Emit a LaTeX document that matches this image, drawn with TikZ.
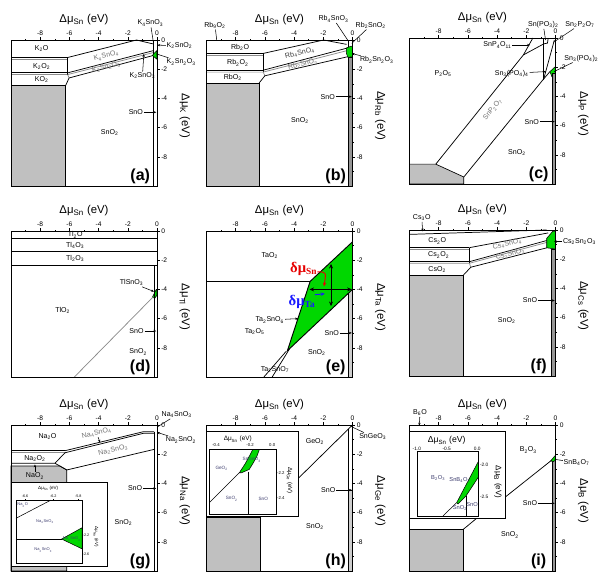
\documentclass[tikz,border=0pt]{standalone}
\usepackage{fontspec}
\setmainfont{Liberation Sans}
\newfontfamily\serifb{Liberation Serif}
\usetikzlibrary{arrows.meta}
\newcommand\ssb[1]{\textsubscript{#1}}
\definecolor{regray}{RGB}{192,192,192}
\definecolor{stripgray}{RGB}{150,150,150}
\definecolor{stripgrayb}{RGB}{205,205,205}
\definecolor{sgreen}{RGB}{0,215,0}
\definecolor{dred}{RGB}{230,0,0}
\definecolor{dblue}{RGB}{25,25,255}
\definecolor{inkc}{RGB}{60,60,110}
\tikzset{
 frame/.style={draw=black,line width=0.7pt},
 bnd/.style={draw=black,line width=0.55pt},
 gbnd/.style={draw=black!45,line width=0.55pt},
 tk/.style={draw=black,line width=0.4pt},
 grayreg/.style={fill=regray,draw=black,line width=0.5pt},
 strip/.style={fill=stripgray,draw=black,line width=0.4pt},
 stripb/.style={fill=stripgrayb,draw=black,line width=0.4pt},
 greenreg/.style={fill=sgreen,draw=black,line width=0.4pt},
 lab/.style={font=\fontsize{5.3}{6}\selectfont,inner sep=0.5pt},
 glab/.style={lab,text=black!55},
 ticklab/.style={font=\fontsize{5}{6}\selectfont,inner sep=0.8pt},
 axtitle/.style={font=\fontsize{8.5}{9}\selectfont,inner sep=0pt},
 plab/.style={font=\fontsize{12}{13}\selectfont\bfseries,inner sep=0pt},
 arr/.style={-{Stealth[length=2.2pt,width=1.8pt]},line width=0.4pt},
 ln/.style={line width=0.4pt},
 ilab/.style={font=\fontsize{#1}{#1}\selectfont,inner sep=0.2pt,text=inkc},
 itit/.style={font=\fontsize{#1}{#1}\selectfont,inner sep=0.2pt},
 ibox/.style={fill=white,draw=black,line width=0.6pt},
 iframe/.style={draw=black,line width=0.5pt},
 darr/.style={{Stealth[length=3.5pt,width=3pt]}-{Stealth[length=3.5pt,width=3pt]},line width=0.8pt},
 rarr/.style={-{Stealth[length=3pt,width=2.6pt]},draw=dred,line width=0.7pt},
 barr/.style={-{Stealth[length=3pt,width=2.6pt]},draw=dblue,line width=0.7pt},
 dlab/.style={font=\serifb\bfseries\fontsize{11}{12}\selectfont,inner sep=0pt},
}
\newcommand\paxes[2]{%
 \draw[frame] (-10,-10) rectangle (0,0);
 \foreach \tv in {-9,-7,-5,-3,-1}{\draw[tk] (\tv,0) -- (\tv,0.1); \draw[tk] (0,\tv) -- (0.1,\tv);}
 \foreach \tv in {-8,-6,-4,-2,0}{%
   \draw[tk] (\tv,0) -- (\tv,0.2) node[ticklab,anchor=south,name=#1x\tv]{\tv};
   \draw[tk] (0,\tv) -- (0.2,\tv) node[ticklab,anchor=west,name=#1y\tv]{\tv};}
 \node[axtitle] (#1xt) at (-5,1.4) {Δμ\ssb{Sn} (eV)};
 \node[axtitle,rotate=-90] (#1yt) at (1.9,-5.2) {Δμ\ssb{#2} (eV)};
 \node[plab] (#1pl) at (-1.15,-9.35) {(#1)};
}
\begin{document}
\begin{tikzpicture}[x=0.75pt,y=-0.75pt]
\useasboundingbox (0,0) rectangle (600,582);
\fill[white] (0,0) rectangle (600,582);

%% ---------------- (a) K
\begin{scope}[shift={(157,40)}]\begin{scope}[x=10.95pt,y=10.95pt]
 \path[grayreg] (-10,-3.1) rectangle (-6.25,-10);
 \draw[bnd] (-10,-1.2) -- (-6.12,-1.2);
 \draw[gbnd] (-10,-1.32) -- (-6.12,-1.32);
 \draw[bnd] (-10,-2.25) -- (-6.12,-2.25);
 \draw[gbnd] (-10,-2.37) -- (-6.12,-2.37) -- (-6.02,-2.6);
 \draw[bnd] (-6.12,-1.2) -- (-6.12,-2.37);
 \draw[bnd] (-6.12,-1.2) -- (-1.4,0) -- (-0.35,-0.25) -- (-0.22,-0.25);
 \draw[bnd] (-6.12,-2.25) -- (-0.22,-0.72);
 \draw[gbnd] (-6.12,-2.37) -- (-0.22,-0.85);
 \draw[bnd] (-6.25,-3.1) -- (-6.02,-2.6) -- (-0.22,-1.05);
 \draw[bnd] (-0.22,0) -- (-0.22,-10);
 \path[greenreg] (-0.32,-1.05) -- (0,-0.72) -- (0,-1.32) -- cycle;
 \paxes{a}{K}
 \node[lab] (aK2O) at (-7.9,-0.6) {K\ssb{2}O};
 \node[lab] (aK2O2) at (-7.9,-1.8) {K\ssb{2}O\ssb{2}};
 \node[lab] (aKO2) at (-7.9,-2.72) {KO\ssb{2}};
 \node[glab,rotate=14] (aB1) at (-3.47,-1.1) {K\ssb{4}SnO\ssb{4}};
 \node[glab,rotate=14] (aB2) at (-3.47,-1.85) {K\ssb{2}Sn\ssb{2}O\ssb{5}};
 \node[lab] (aSnO2) at (-3.24,-6.32) {SnO\ssb{2}};
 \node[lab] (aSnO) at (-1.45,-4.95) {SnO};
 \coordinate (aSnOt) at (-0.05,-4.95); \draw[arr] (aSnO) -- (aSnOt);
 \node[lab] (aT1) at (-0.45,1.15) {K\ssb{4}SnO\ssb{3}};
 \coordinate (aT1t) at (-0.25,-0.15); \draw[ln] (aT1) -- (aT1t);
 \node[lab,anchor=west] (aR1) at (0.6,-0.4) {K\ssb{2}SnO\ssb{2}};
 \coordinate (aR1t) at (0.02,-0.35); \draw[arr] (aR1) -- (aR1t);
 \node[lab,anchor=west] (aR2) at (0.6,-1.5) {K\ssb{2}Sn\ssb{2}O\ssb{3}};
 \coordinate (aR2t) at (-0.05,-0.95); \draw[ln] (aR2) -- (aR2t);
 \node[lab] (aR3) at (-1.0,-2.45) {K\ssb{2}SnO\ssb{3}};
 \coordinate (aR3t) at (-0.9,-0.95); \draw[arr] (aR3) -- (aR3t);
\end{scope}\end{scope}

%% ---------------- (b) Rb
\begin{scope}[shift={(352.5,40)}]\begin{scope}[x=10.95pt,y=10.95pt]
 \path[grayreg] (-10,-2.95) rectangle (-6.4,-10);
 \draw[bnd] (-10,-0.92) -- (-6.12,-0.92);
 \draw[gbnd] (-10,-1.08) -- (-6.12,-1.08);
 \draw[bnd] (-10,-2.07) -- (-6.12,-2.07);
 \draw[gbnd] (-10,-2.2) -- (-6.12,-2.2) -- (-6.0,-2.45);
 \draw[bnd] (-6.12,-0.92) -- (-6.12,-2.2);
 \draw[bnd] (-6.12,-0.92) -- (-1.98,0) -- (-0.4,-0.3);
 \draw[bnd] (-6.12,-2.07) -- (-0.35,-0.55);
 \draw[gbnd] (-6.12,-2.2) -- (-0.35,-0.72);
 \draw[bnd] (-6.4,-2.95) -- (-6.0,-2.45) -- (-0.35,-1.15);
 \draw[bnd] (-0.3,0) -- (-0.3,-1.15);
 \path[strip] (-0.3,-1.15) rectangle (0,-10);
 \path[greenreg] (-0.42,-0.55) -- (-0.1,-0.42) -- (0,-0.45) -- (0,-1.15) -- (-0.32,-1.18) -- (-0.42,-0.9) -- cycle;
 \paxes{b}{Rb}
 \node[lab] (bRb9) at (-9.42,1.0) {Rb\ssb{9}O\ssb{2}};
 \coordinate (bRb9t) at (-9.3,0); \draw[ln] (bRb9) -- (bRb9t);
 \node[lab] (bRb2O) at (-7.7,-0.5) {Rb\ssb{2}O};
 \node[lab] (bRb2O2) at (-7.85,-1.56) {Rb\ssb{2}O\ssb{2}};
 \node[lab] (bRbO2) at (-8.2,-2.55) {RbO\ssb{2}};
 \node[lab,text=black!75,rotate=13] (bB1) at (-3.6,-0.92) {Rb\ssb{4}SnO\ssb{4}};
 \node[glab,rotate=13] (bB2) at (-3.4,-1.68) {Rb\ssb{2}SnO\ssb{3}};
 \node[lab] (bSnO2) at (-3.6,-5.5) {SnO\ssb{2}};
 \node[lab] (bSnO) at (-1.7,-3.88) {SnO};
 \coordinate (bSnOt) at (-0.05,-3.88); \draw[arr] (bSnO) -- (bSnOt);
 \node[lab] (bT1) at (-1.3,1.45) {Rb\ssb{4}SnO\ssb{3}};
 \coordinate (bT1t) at (-0.3,-0.05); \draw[ln] (bT1) -- (bT1t);
 \node[lab] (bT2) at (1.25,1.0) {Rb\ssb{2}SnO\ssb{2}};
 \coordinate (bT2t) at (-0.05,-0.23); \draw[ln] (bT2) -- (bT2t);
 \node[lab,anchor=west] (bR1) at (0.45,-1.37) {Rb\ssb{2}Sn\ssb{2}O\ssb{3}};
 \coordinate (bR1t) at (-0.05,-0.92); \draw[arr] (bR1) -- (bR1t);
\end{scope}\end{scope}

%% ---------------- (c) P
\begin{scope}[shift={(555.5,38)}]\begin{scope}[x=10.95pt,y=10.95pt]
 \path[grayreg] (-10,-8.64) -- (-8.2,-8.64) -- (-6.28,-9.52) -- (-6.28,-10) -- (-10,-10) -- cycle;
 \path[greenreg] (-0.38,-2.3) -- (0,-1.95) -- (0,-2.4) -- (-0.25,-2.65) -- cycle;
 \path[strip] (-0.2,-2.4) rectangle (0,-10);
 \draw[bnd] (-8.2,-8.64) -- (-2.2,-1.16);
 \draw[bnd] (-2.2,-1.16) -- (-1.55,0);
 \draw[bnd] (-2.2,-1.16) -- (-0.8,-0.4);
 \draw[bnd] (-0.8,0) -- (-0.8,-2.85);
 \draw[bnd] (-0.8,-0.4) -- (-0.55,-0.35) -- (-0.5,0);
 \draw[bnd] (-6.28,-9.52) -- (-0.85,-2.85) -- (-0.38,-2.3);
 \draw[bnd] (-0.82,-2.85) -- (-0.08,-0.15);
 \paxes{c}{P}
 \node[lab] (cP2O5) at (-7.7,-2.43) {P\ssb{2}O\ssb{5}};
 \node[glab,rotate=51] (cB1) at (-4.3,-4.9) {SnP\ssb{2}O\ssb{7}};
 \node[lab] (cSnO2) at (-2.64,-7.84) {SnO\ssb{2}};
 \node[lab] (cSnO) at (-1.63,-5.73) {SnO};
 \coordinate (cSnOt) at (-0.05,-5.73); \draw[arr] (cSnO) -- (cSnOt);
 \node[lab,anchor=east] (cL1) at (-2.95,-0.48) {SnP\ssb{4}O\ssb{11}};
 \coordinate (cL1t) at (-1.75,-0.48); \draw[arr] (cL1) -- (cL1t);
 \node[lab] (cL2) at (-3.0,-2.42) {Sn\ssb{3}(PO\ssb{4})\ssb{4}};
 \coordinate (cL2t) at (-0.65,-2.3); \draw[arr] (cL2) -- (cL2t);
 \node[lab] (cT1) at (-0.84,0.92) {Sn(PO\ssb{3})\ssb{2}};
 \coordinate (cT1t) at (-0.68,-0.15); \draw[ln] (cT1) -- (cT1t);
 \node[lab] (cT2) at (1.68,0.92) {Sn\ssb{2}P\ssb{2}O\ssb{7}};
 \coordinate (cT2t) at (-0.15,-0.3); \draw[ln] (cT2) -- (cT2t);
 \node[lab,anchor=west] (cR1) at (0.55,-1.39) {Sn\ssb{3}(PO\ssb{4})\ssb{2}};
 \coordinate (cR1t) at (-0.1,-2.3); \draw[ln] (cR1) -- (cR1t);
\end{scope}\end{scope}

%% ---------------- (d) Tl
\begin{scope}[shift={(157,231)}]\begin{scope}[x=10.95pt,y=10.95pt]
 \path[greenreg] (-0.32,-4.55) -- (-0.05,-4.0) -- (0,-4.0) -- (0,-4.4) -- (-0.15,-4.6) -- cycle;
 \draw[bnd] (-10,-0.5) -- (0,-0.5);
 \draw[bnd] (-10,-1.42) -- (0,-1.42);
 \draw[bnd] (-10,-2.33) -- (0,-2.33);
 \draw[gbnd] (-5.66,-10) -- (-0.25,-4.5);
 \draw[bnd] (-0.15,-2.33) -- (-0.15,-10);
 \paxes{d}{Tl}
 \node[lab] (dTl2O) at (-5.6,-0.26) {Tl\ssb{2}O};
 \node[lab] (dTl4O3) at (-5.6,-0.98) {Tl\ssb{4}O\ssb{3}};
 \node[lab] (dTl2O3) at (-5.6,-1.87) {Tl\ssb{2}O\ssb{3}};
 \node[lab] (dTlO2) at (-6.46,-5.45) {TlO\ssb{2}};
 \node[lab] (dTS) at (-1.74,-3.54) {TlSnO\ssb{3}};
 \coordinate (dTSt) at (-0.2,-4.15); \draw[arr] (dTS) -- (dTSt);
 \node[lab] (dSnO) at (-1.4,-6.85) {SnO};
 \coordinate (dSnOt) at (-0.05,-6.85); \draw[arr] (dSnO) -- (dSnOt);
 \node[lab] (dSnO2) at (-1.29,-8.3) {SnO\ssb{2}};
\end{scope}\end{scope}

%% ---------------- (e) Ta
\begin{scope}[shift={(352.5,231)}]\begin{scope}[x=10.95pt,y=10.95pt]
 \path[stripb] (-0.3,-4.0) rectangle (0,-10);
 \draw[bnd] (-10,-3.45) -- (-2.9,-3.45);
 \path[greenreg,line width=0.7pt] (-2.9,-3.45) -- (0,-0.74) -- (0,-4.0) -- (-4.46,-8.2) -- cycle;
 \draw[bnd] (-4.55,-8.25) -- (-6.07,-10);
 \draw[bnd] (-4.3,-8.05) -- (-5.5,-10);
 \coordinate (ev1) at (-1.47,-2.25); \coordinate (ev2) at (-1.47,-5.15);
 \draw[darr] (ev1) -- (ev2);
 \coordinate (eh1) at (-2.95,-4.0); \coordinate (eh2) at (-0.05,-4.0);
 \draw[darr] (eh1) -- (eh2);
 \paxes{e}{Ta}
 \node[dlab,text=dred] (edSn) at (-3.37,-2.57) {δμ\raisebox{-2pt}{\fontsize{7}{8}\selectfont Sn}};
 \coordinate (erS) at (-2.4,-2.8); \coordinate (erT) at (-1.95,-3.8);
 \draw[rarr] (erS) .. controls (-1.8,-2.8) .. (erT);
 \node[dlab,text=dblue] (edTa) at (-3.48,-4.84) {δμ\raisebox{-2pt}{\fontsize{7}{8}\selectfont Ta}};
 \coordinate (ebT) at (-1.9,-4.3);
 \draw[barr] (edTa.north east) -- (ebT);
 \node[lab] (eTaO2) at (-5.66,-1.66) {TaO\ssb{2}};
 \node[lab] (eT6) at (-5.66,-6.1) {Ta\ssb{2}SnO\ssb{6}};
 \coordinate (eT6t) at (-3.72,-6.0); \draw[arr] (eT6) -- (eT6t);
 \node[lab] (eTa2O5) at (-6.7,-6.9) {Ta\ssb{2}O\ssb{5}};
 \node[lab] (eSnO2) at (-2.44,-8.33) {SnO\ssb{2}};
 \node[lab] (eSnO) at (-1.42,-6.98) {SnO};
 \coordinate (eSnOt) at (-0.05,-6.98); \draw[arr] (eSnO) -- (eSnOt);
 \node[lab] (eT7) at (-5.31,-9.5) {Ta\ssb{2}SnO\ssb{7}};
\end{scope}\end{scope}

%% ---------------- (f) Cs
\begin{scope}[shift={(555.5,230)}]\begin{scope}[x=10.95pt,y=10.95pt]
 \path[grayreg] (-10,-3.08) rectangle (-6.3,-10);
 \path[strip] (-0.28,-1.3) rectangle (0,-10);
 \draw[bnd] (-10,-0.3) -- (-0.6,0);
 \draw[bnd] (-10,-1.21) -- (-5.9,-1.21);
 \draw[gbnd] (-10,-1.3) -- (-5.9,-1.3);
 \draw[bnd] (-10,-2.17) -- (-5.9,-2.17);
 \draw[gbnd] (-10,-2.28) -- (-5.9,-2.28) -- (-5.8,-2.55);
 \draw[bnd] (-5.9,-1.21) -- (-5.9,-2.28);
 \draw[bnd] (-5.9,-1.21) -- (-0.5,-0.2);
 \draw[bnd] (-5.9,-2.17) -- (-0.6,-0.72);
 \draw[gbnd] (-5.9,-2.28) -- (-0.6,-0.85);
 \draw[bnd] (-6.3,-3.08) -- (-5.8,-2.55) -- (-0.6,-1.22);
 \path[greenreg] (-0.6,-0.57) -- (-0.2,-0.1) -- (0,-0.07) -- (0,-1.3) -- (-0.6,-1.22) -- cycle;
 \paxes{f}{Cs}
 \node[lab] (fCs3O) at (-9.16,0.84) {Cs\ssb{3}O};
 \coordinate (fCs3Ot) at (-9.1,-0.1); \draw[arr] (fCs3O) -- (fCs3Ot);
 \node[lab] (fCs2O) at (-8.1,-0.75) {Cs\ssb{2}O};
 \node[lab] (fCs2O2) at (-8.0,-1.72) {Cs\ssb{2}O\ssb{2}};
 \node[lab] (fCsO2) at (-8.1,-2.69) {CsO\ssb{2}};
 \node[glab,rotate=14] (fB1) at (-3.3,-0.98) {Cs\ssb{4}SnO\ssb{4}};
 \node[glab,rotate=14] (fB2) at (-3.1,-1.68) {Cs\ssb{2}SnO\ssb{3}};
 \node[lab] (fSnO2) at (-3.34,-6.2) {SnO\ssb{2}};
 \node[lab] (fSnO) at (-1.75,-4.83) {SnO};
 \coordinate (fSnOt) at (-0.05,-4.83); \draw[arr] (fSnO) -- (fSnOt);
 \node[lab,anchor=west] (fR1) at (0.45,-0.8) {Cs\ssb{2}Sn\ssb{2}O\ssb{3}};
 \coordinate (fR1t) at (-0.1,-0.8); \draw[arr] (fR1) -- (fR1t);
\end{scope}\end{scope}

%% ---------------- (g) Na
\begin{scope}[shift={(157,425)}]\begin{scope}[x=10.95pt,y=10.95pt]
 \path[grayreg] (-10,-2.81) -- (-6.65,-2.81) -- (-6.18,-3.08) -- (-6.18,-10) -- (-10,-10) -- cycle;
 \draw[bnd] (-10,-1.76) -- (-6.3,-1.76);
 \draw[gbnd] (-10,-1.9) -- (-6.3,-1.9);
 \draw[bnd] (-10,-2.62) -- (-6.99,-2.62) -- (-6.3,-1.9);
 \draw[bnd] (-6.3,-1.76) -- (-0.94,-0.46) -- (-0.2,-0.46);
 \draw[bnd] (-6.3,-1.9) -- (-0.94,-0.57) -- (-0.2,-0.57);
 \draw[bnd] (-6.99,-2.62) -- (-6.18,-3.08) -- (-0.2,-1.67);
 \draw[bnd] (-0.2,-0.46) -- (-0.2,-10);
 % inset
 \path[ibox] (-9.95,-3.92) rectangle (-3.38,-9.7);
 \path[greenreg] (-6.53,-7.81) -- (-5.12,-7.03) -- (-5.12,-8.49) -- cycle;
 \draw[bnd,line width=0.4pt] (-9.66,-6.39) -- (-7.26,-5.14);
 \draw[bnd,line width=0.4pt] (-9.66,-7.81) -- (-6.53,-7.81);
 \draw[iframe] (-9.66,-5.14) rectangle (-5.12,-9.47);
 \foreach \q in {-9.04,-7.1,-5.39}{\draw[tk,line width=0.3pt] (\q,-5.14) -- (\q,-5.04);}
 \node[itit=3.4] (gix) at (-7.45,-4.34) {Δμ\ssb{Sn} (eV)};
 \node[itit=2.8] (gix1) at (-9.04,-4.85) {-6.6};
 \node[itit=2.8] (gix2) at (-7.1,-4.85) {-6.2};
 \node[itit=2.8] (gix3) at (-5.39,-4.85) {-5.8};
 \node[itit=2.8] (giy1) at (-4.86,-7.58) {-2.2};
 \node[itit=2.8] (giy2) at (-4.86,-8.86) {-2.6};
 \node[itit=3.4,rotate=-90] (giy) at (-4.18,-7.65) {Δμ\ssb{Na} (eV)};
 \node[ilab=3] (giA) at (-9.2,-5.48) {Na\ssb{2}O};
 \node[ilab=3] (giB) at (-7.67,-6.62) {Na\ssb{4}SnO\ssb{3}};
 \node[ilab=3] (giC) at (-5.84,-7.81) {Na\ssb{2}SnO\ssb{2}};
 \node[ilab=3] (giD) at (-7.79,-8.56) {Na\ssb{2}SnO\ssb{3}};
 \paxes{g}{Na}
 \node[lab] (gNa2O) at (-7.5,-0.8) {Na\ssb{2}O};
 \node[lab] (gNa2O2) at (-8.36,-2.28) {Na\ssb{2}O\ssb{2}};
 \node[lab] (gNaO2) at (-8.36,-3.49) {NaO\ssb{2}};
 \coordinate (gNaO2t) at (-8.36,-2.7); \draw[arr] (gNaO2) -- (gNaO2t);
 \node[glab,rotate=13] (gB1) at (-4.13,-0.57) {Na\ssb{4}SnO\ssb{4}};
 \coordinate (gB1t) at (-3.9,-1.2); \draw[arr] (gB1) -- (gB1t);
 \node[glab,rotate=13] (gB2) at (-3.0,-1.75) {Na\ssb{2}SnO\ssb{3}};
 \node[lab] (gSnO) at (-1.5,-4.34) {SnO};
 \coordinate (gSnOt) at (-0.05,-4.34); \draw[arr] (gSnO) -- (gSnOt);
 \node[lab] (gSnO2) at (-2.3,-6.67) {SnO\ssb{2}};
 \node[lab] (gT1) at (1.35,0.7) {Na\ssb{4}SnO\ssb{3}};
 \coordinate (gT1t) at (0,-0.15); \draw[ln] (gT1) -- (gT1t);
 \node[lab,anchor=west] (gR1) at (0.55,-1.03) {Na\ssb{2}SnO\ssb{2}};
 \coordinate (gR1t) at (0,-0.5); \draw[arr] (gR1) -- (gR1t);
\end{scope}\end{scope}

%% ---------------- (h) Ge
\begin{scope}[shift={(352.5,425)}]\begin{scope}[x=10.95pt,y=10.95pt]
 \path[grayreg] (-10,-6.3) rectangle (-6.3,-10);
 \draw[bnd] (-0.3,-0.3) -- (-0.3,-4.45);
 \path[stripb] (-0.3,-4.45) rectangle (0,-10);
 \draw[bnd] (0,0) -- (-3.71,-3.65);
 % inset
 \path[ibox] (-10,-0.46) rectangle (-3.71,-6.28);
 \path[greenreg] (-7.75,-3.27) -- (-7.36,-2.67) -- (-7.02,-2.05) -- (-6.83,-1.68) -- (-6.38,-1.68) -- (-6.56,-2.17) -- (-6.79,-2.58) -- (-7.07,-3.04) -- (-7.6,-3.27) -- cycle;
 \draw[bnd,line width=0.4pt] (-9.81,-5.32) -- (-7.75,-3.27);
 \draw[bnd,line width=0.4pt] (-7.14,-3.2) -- (-7.14,-6.1);
 \draw[iframe] (-9.81,-1.68) rectangle (-5.24,-6.1);
 \node[itit=4.8] (hix) at (-7.86,-0.98) {Δμ\ssb{Sn} (eV)};
 \node[itit=3.2] (hix1) at (-9.35,-1.4) {-0.4};
 \node[itit=3.2] (hix2) at (-7.02,-1.4) {-0.2};
 \node[itit=3.2] (hix3) at (-5.5,-1.4) {0.0};
 \node[itit=3.2,anchor=west] (hiy1) at (-5.2,-3.31) {-2.2};
 \node[itit=3.2,anchor=west] (hiy2) at (-5.2,-5.02) {-2.4};
 \node[itit=4.5,rotate=-90] (hiy) at (-4.3,-3.8) {Δμ\ssb{Ge} (eV)};
 \node[ilab=3.5] (hiA) at (-8.96,-2.97) {GeO\ssb{2}};
 \node[ilab=3.5] (hiB) at (-6.9,-2.4) {SnGeO\ssb{3}};
 \node[ilab=3.5] (hiC) at (-8.27,-5.05) {SnO\ssb{2}};
 \node[ilab=3.5] (hiD) at (-6.11,-5.05) {SnO};
 \paxes{h}{Ge}
 \node[lab] (hGeO2) at (-2.57,-1.14) {GeO\ssb{2}};
 \node[lab,anchor=west] (hR1) at (0.4,-0.8) {SnGeO\ssb{3}};
 \coordinate (hR1t) at (-0.1,-0.1); \draw[ln] (hR1) -- (hR1t);
 \node[lab] (hSnO) at (-1.66,-4.45) {SnO};
 \coordinate (hSnOt) at (-0.05,-4.45); \draw[arr] (hSnO) -- (hSnOt);
 \node[lab] (hSnO2) at (-2.57,-6.97) {SnO\ssb{2}};
\end{scope}\end{scope}

%% ---------------- (i) B
\begin{scope}[shift={(555.5,425)}]\begin{scope}[x=10.95pt,y=10.95pt]
 \path[grayreg] (-10,-7.15) rectangle (-6.32,-10);
 \path[strip] (-0.25,-2.42) rectangle (0,-10);
 \draw[bnd] (-6.32,-7.15) -- (-5.4,-6.39);
 \draw[bnd] (-0.1,-2.28) -- (-3.46,-4.95);
 \path[greenreg] (-0.32,-2.45) -- (-0.05,-2.12) -- (0,-2.12) -- (0,-2.42) -- (-0.18,-2.52) -- cycle;
 % inset
 \path[ibox] (-10,-0.46) rectangle (-3.46,-6.39);
 \path[greenreg] (-6.77,-5.32) -- (-5.29,-2.51) -- (-5.29,-3.58) -- (-6.13,-4.86) -- (-6.68,-5.41) -- cycle;
 \draw[bnd,line width=0.4pt] (-7.71,-6.23) -- (-6.77,-5.32);
 \draw[bnd,line width=0.4pt] (-6.13,-4.86) -- (-6.13,-6.23);
 \draw[iframe] (-9.49,-1.83) rectangle (-5.29,-6.23);
 \node[itit=6.5] (iix) at (-7.45,-1.05) {Δμ\ssb{Sn} (eV)};
 \node[itit=3.6] (iix1) at (-9.5,-1.62) {-1.0};
 \node[itit=3.6] (iix2) at (-7.45,-1.62) {-0.5};
 \node[itit=3.6] (iix3) at (-5.36,-1.62) {0.0};
 \node[itit=3.6,anchor=west] (iiy1) at (-5.2,-2.74) {-2.0};
 \node[itit=3.6,anchor=west] (iiy2) at (-5.2,-4.91) {-2.5};
 \node[itit=6,rotate=-90] (iiy) at (-3.95,-3.9) {Δμ\ssb{B} (eV)};
 \node[ilab=4.3] (iiA) at (-8.03,-3.65) {B\ssb{2}O\ssb{3}};
 \node[ilab=4.3] (iiB) at (-6.54,-3.78) {SnB\ssb{4}O\ssb{7}};
 \node[ilab=4.3] (iiC) at (-6.54,-5.67) {SnO\ssb{2}};
 \node[ilab=4.3] (iiD) at (-5.72,-5.45) {SnO};
 \paxes{i}{B}
 \node[lab] (iB6O) at (-9.28,0.84) {B\ssb{6}O};
 \coordinate (iB6Ot) at (-9.33,-0.05); \draw[arr] (iB6O) -- (iB6Ot);
 \node[lab] (iB2O3) at (-1.86,-1.71) {B\ssb{2}O\ssb{3}};
 \node[lab,anchor=west] (iR1) at (0.5,-2.58) {SnB\ssb{4}O\ssb{7}};
 \coordinate (iR1t) at (-0.05,-2.35); \draw[ln] (iR1) -- (iR1t);
 \node[lab] (iSnO) at (-1.75,-5.36) {SnO};
 \coordinate (iSnOt) at (-0.05,-5.36); \draw[arr] (iSnO) -- (iSnOt);
 \node[lab] (iSnO2) at (-3.12,-7.53) {SnO\ssb{2}};
\end{scope}\end{scope}
\end{tikzpicture}
\end{document}
